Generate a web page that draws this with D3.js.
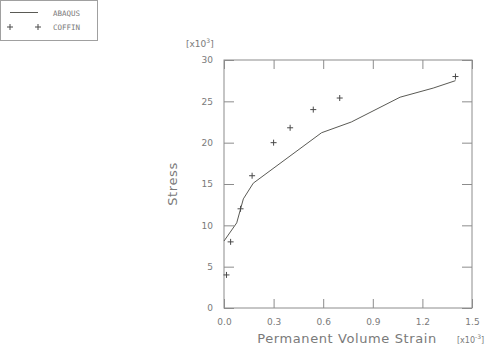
<!DOCTYPE html>
<html>
<head>
<meta charset="utf-8">
<script src="https://cdn.jsdelivr.net/npm/d3@7"></script>
<style>
  body { margin: 0; background: #fff; }
  text { font-family: "DejaVu Sans", sans-serif; fill: #7a7a7a; }
</style>
</head>
<body>
<div id="chart"></div>
<script>
// ABAQUS curve (line)
var abaqus_x = [0.0, 0.077, 0.117, 0.177, 0.59, 0.77, 1.065, 1.265, 1.4]
var abaqus_y = [8.1, 10.3, 13.2, 15.1, 21.2, 22.5, 25.5, 26.6, 27.5]

// COFFIN test points (+)
var coffin_x = [0.015, 0.04, 0.1, 0.17, 0.3, 0.4, 0.54, 0.7, 1.4]
var coffin_y = [4, 8, 12, 16, 20, 21.8, 24, 25.4, 28]

var x_ticks = [0.0, 0.3, 0.6, 0.9, 1.2, 1.5]
var y_ticks = [0, 5, 10, 15, 20, 25, 30]
var series_names = ['ABAQUS', 'COFFIN']

var W = 489, H = 345
var margin = {top: 60, right: 17, bottom: 37, left: 224},
width = W - margin.left - margin.right,
height = H - margin.top - margin.bottom;

var svg = d3.select("#chart")
  .append("svg")
    .attr("width", W)
    .attr("height", H)

var g = svg.append("g")
  .attr("transform", "translate(" + margin.left + "," + margin.top + ")");

var x = d3.scaleLinear().domain([0, 1.5]).range([0, width])
var y = d3.scaleLinear().domain([0, 30]).range([height, 0])

var axisCol = "#8c8c8c"

// frame
g.append("rect")
  .attr("width", width).attr("height", height)
  .attr("fill", "none").attr("stroke", axisCol).attr("stroke-width", 1)

// inner ticks on all four sides
function styleAxis(sel) {
  sel.select(".domain").remove()
  sel.selectAll(".tick line").attr("stroke", axisCol)
  sel.selectAll(".tick text").style("font-size", "9px").attr("fill", "#7a7a7a")
}
g.append("g").attr("transform", "translate(0," + height + ")")
  .call(d3.axisBottom(x).tickValues(x_ticks).tickFormat(d3.format(".1f")).tickSizeInner(-9).tickPadding(11))
  .call(styleAxis)
g.append("g")
  .call(d3.axisLeft(y).tickValues(y_ticks).tickSizeInner(-10).tickPadding(11))
  .call(styleAxis)
g.append("g")
  .call(d3.axisTop(x).tickValues(x_ticks).tickFormat("").tickSizeInner(-9))
  .call(styleAxis)
g.append("g").attr("transform", "translate(" + width + ",0)")
  .call(d3.axisRight(y).tickValues(y_ticks).tickFormat("").tickSizeInner(-10))
  .call(styleAxis)

// ABAQUS line
var lineData = abaqus_x.map(function(d, i) { return [d, abaqus_y[i]]; })
g.append("path")
  .datum(lineData)
  .attr("fill", "none")
  .attr("stroke", "#5a5a55")
  .attr("stroke-width", 1)
  .attr("d", d3.line().x(function(d) { return x(d[0]); }).y(function(d) { return y(d[1]); }))

// COFFIN points
g.selectAll(".pt")
  .data(coffin_x.map(function(d, i) { return [d, coffin_y[i]]; }))
  .enter()
  .append("path")
  .attr("class", "pt")
  .attr("transform", function(d) { return "translate(" + x(d[0]) + "," + y(d[1]) + ")"; })
  .attr("d", "M-3,0H3M0,-3V3")
  .attr("stroke", "#4a4a4a")
  .attr("stroke-width", 1)
  .attr("fill", "none")

// axis titles
svg.append("text")
  .attr("x", 347).attr("y", 343)
  .attr("text-anchor", "middle")
  .style("font-size", "13px")
  .style("letter-spacing", "0.6px")
  .text("Permanent Volume Strain")

var xe = svg.append("text").attr("x", 457).attr("y", 343).style("font-size", "8px")
xe.append("tspan").text("[x10")
xe.append("tspan").attr("dy", -4).style("font-size", "6px").text("-3")
xe.append("tspan").attr("dy", 4).text("]")

var ye = svg.append("text").attr("x", 186).attr("y", 47).style("font-size", "9px")
ye.append("tspan").text("[x10")
ye.append("tspan").attr("dy", -4).style("font-size", "6px").text("3")
ye.append("tspan").attr("dy", 4).text("]")

svg.append("text")
  .attr("transform", "translate(177,184) rotate(-90)")
  .attr("text-anchor", "middle")
  .style("font-size", "13px")
  .style("letter-spacing", "0.6px")
  .text("Stress")

// legend
var leg = svg.append("g")
leg.append("rect")
  .attr("x", 0.5).attr("y", 0.5).attr("width", 97).attr("height", 40)
  .attr("fill", "none").attr("stroke", "#a0a0a0")
leg.append("line")
  .attr("x1", 10).attr("x2", 38).attr("y1", 12.5).attr("y2", 12.5)
  .attr("stroke", "#5a5a55")
leg.selectAll(".lp")
  .data([10, 38])
  .enter()
  .append("path")
  .attr("transform", function(d) { return "translate(" + d + ",27)"; })
  .attr("d", "M-3,0H3M0,-3V3")
  .attr("stroke", "#4a4a4a")
leg.selectAll(".lt")
  .data(series_names)
  .enter()
  .append("text")
  .attr("x", 53)
  .attr("y", function(d, i) { return 16 + i * 14; })
  .style("font-family", "'DejaVu Sans Mono', monospace")
  .style("font-size", "7.5px")
  .text(function(d) { return d; })
</script>
</body>
</html>
